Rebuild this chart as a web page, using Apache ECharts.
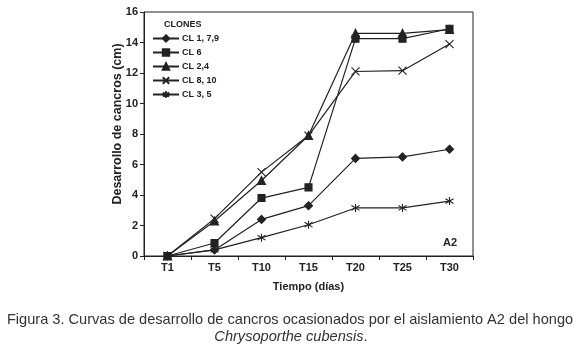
<!DOCTYPE html>
<html>
<head>
<meta charset="utf-8">
<script src="https://cdn.jsdelivr.net/npm/echarts@6/dist/echarts.min.js"></script>
<style>
  html, body { margin: 0; padding: 0; background: #fff; }
  #container { width: 580px; height: 352px; }
</style>
</head>
<body>
<div id="container"></div>
<script>
var categories = ['T1', 'T5', 'T10', 'T15', 'T20', 'T25', 'T30'];
var cl179 = [0, 0.4, 2.4, 3.3, 6.4, 6.5, 7.0];
var cl6 = [0, 0.85, 3.8, 4.5, 14.25, 14.25, 14.9];
var cl24 = [0, 2.3, 4.95, 7.9, 14.6, 14.6, 14.85];
var cl810 = [0, 2.45, 5.5, 7.9, 12.1, 12.15, 13.9];
var cl35 = [0, 0.4, 1.2, 2.05, 3.15, 3.15, 3.6];
var yTicks = [0, 2, 4, 6, 8, 10, 12, 14, 16];

var ink = '#222';
var xPath = 'path://M0,0L10,10M10,0L0,10';
var starPath = 'path://M5,0L5,10M0,2L10,8M0,8L10,2';

function makeSeries(name, data, symbol, size) {
    return {
        name: name,
        type: 'line',
        data: data,
        symbol: symbol,
        symbolSize: size,
        showAllSymbol: true,
        lineStyle: { color: ink, width: 1.2 },
        itemStyle: { color: ink, borderColor: ink, borderWidth: 1.1 },
        emphasis: { disabled: true },
        animation: false
    };
}

var dom = document.getElementById('container');
var myChart = echarts.init(dom, null, { renderer: 'canvas' });

var option = {
    backgroundColor: '#fff',
    textStyle: { fontFamily: 'Liberation Sans, Arial, sans-serif' },
    legend: {
        orient: 'vertical',
        left: 147,
        top: 29,
        itemWidth: 26,
        itemHeight: 8,
        itemGap: 5,
        textStyle: { fontSize: 9, fontWeight: 'bold', color: ink, padding: [0, 0, 0, -2] },
        data: ['CL 1, 7,9', 'CL 6', 'CL 2,4', 'CL 8, 10', 'CL 3, 5']
    },
    graphic: [
        { type: 'text', left: 164, top: 20, style: { text: 'CLONES', font: 'bold 9px Liberation Sans', fill: ink } },
        { type: 'text', left: 443, top: 237, style: { text: 'A2', font: 'bold 11px Liberation Sans', fill: ink } },
        {
            type: 'text', x: 118, y: 124, rotation: Math.PI / 2,
            style: {
                text: 'Desarrollo de cancros (cm)', font: 'bold 12.5px Liberation Sans', fill: ink,
                textAlign: 'center', textVerticalAlign: 'middle'
            }
        },
        {
            type: 'text', x: 290, y: 320,
            style: {
                text: 'Figura 3. Curvas de desarrollo de cancros ocasionados por el aislamiento A2 del hongo',
                font: '14.6px Liberation Sans', fill: '#333', textAlign: 'center', textVerticalAlign: 'middle'
            }
        },
        {
            type: 'text', x: 291, y: 337,
            style: {
                text: '{i|Chrysoporthe cubensis}{n|.}', fill: '#333',
                textAlign: 'center', textVerticalAlign: 'middle',
                rich: {
                    n: { fontSize: 14.6, fontFamily: 'Liberation Sans', color: '#333' },
                    i: { fontSize: 14.6, fontFamily: 'Liberation Sans', fontStyle: 'italic', color: '#333' }
                }
            }
        }
    ],
    grid: {
        left: 144, right: 107, top: 12, bottom: 96,
        show: true, borderColor: ink, borderWidth: 1
    },
    xAxis: {
        type: 'category',
        data: categories,
        boundaryGap: true,
        name: 'Tiempo (días)',
        nameLocation: 'middle',
        nameGap: 25,
        nameTextStyle: { fontSize: 11, fontWeight: 'bold', color: ink },
        axisLine: { lineStyle: { color: ink, width: 1 } },
        axisTick: { show: true, inside: false, length: 4, interval: 0, lineStyle: { color: ink } },
        axisLabel: { fontSize: 11, fontWeight: 'bold', color: ink, margin: 6 },
        splitLine: { show: false }
    },
    yAxis: {
        type: 'value',
        min: yTicks[0],
        max: yTicks[yTicks.length - 1],
        interval: 2,
        axisLine: { show: true, lineStyle: { color: ink, width: 1 } },
        axisTick: { show: true, inside: false, length: 4, lineStyle: { color: ink } },
        axisLabel: { fontSize: 11, fontWeight: 'bold', color: ink, margin: 6 },
        splitLine: { show: false }
    },
    series: [
        makeSeries('CL 1, 7,9', cl179, 'diamond', 8),
        makeSeries('CL 6', cl6, 'rect', 7),
        makeSeries('CL 2,4', cl24, 'triangle', 8),
        makeSeries('CL 8, 10', cl810, xPath, 8),
        makeSeries('CL 3, 5', cl35, starPath, 8)
    ]
};

myChart.setOption(option);
window.addEventListener('resize', myChart.resize);
</script>
</body>
</html>
